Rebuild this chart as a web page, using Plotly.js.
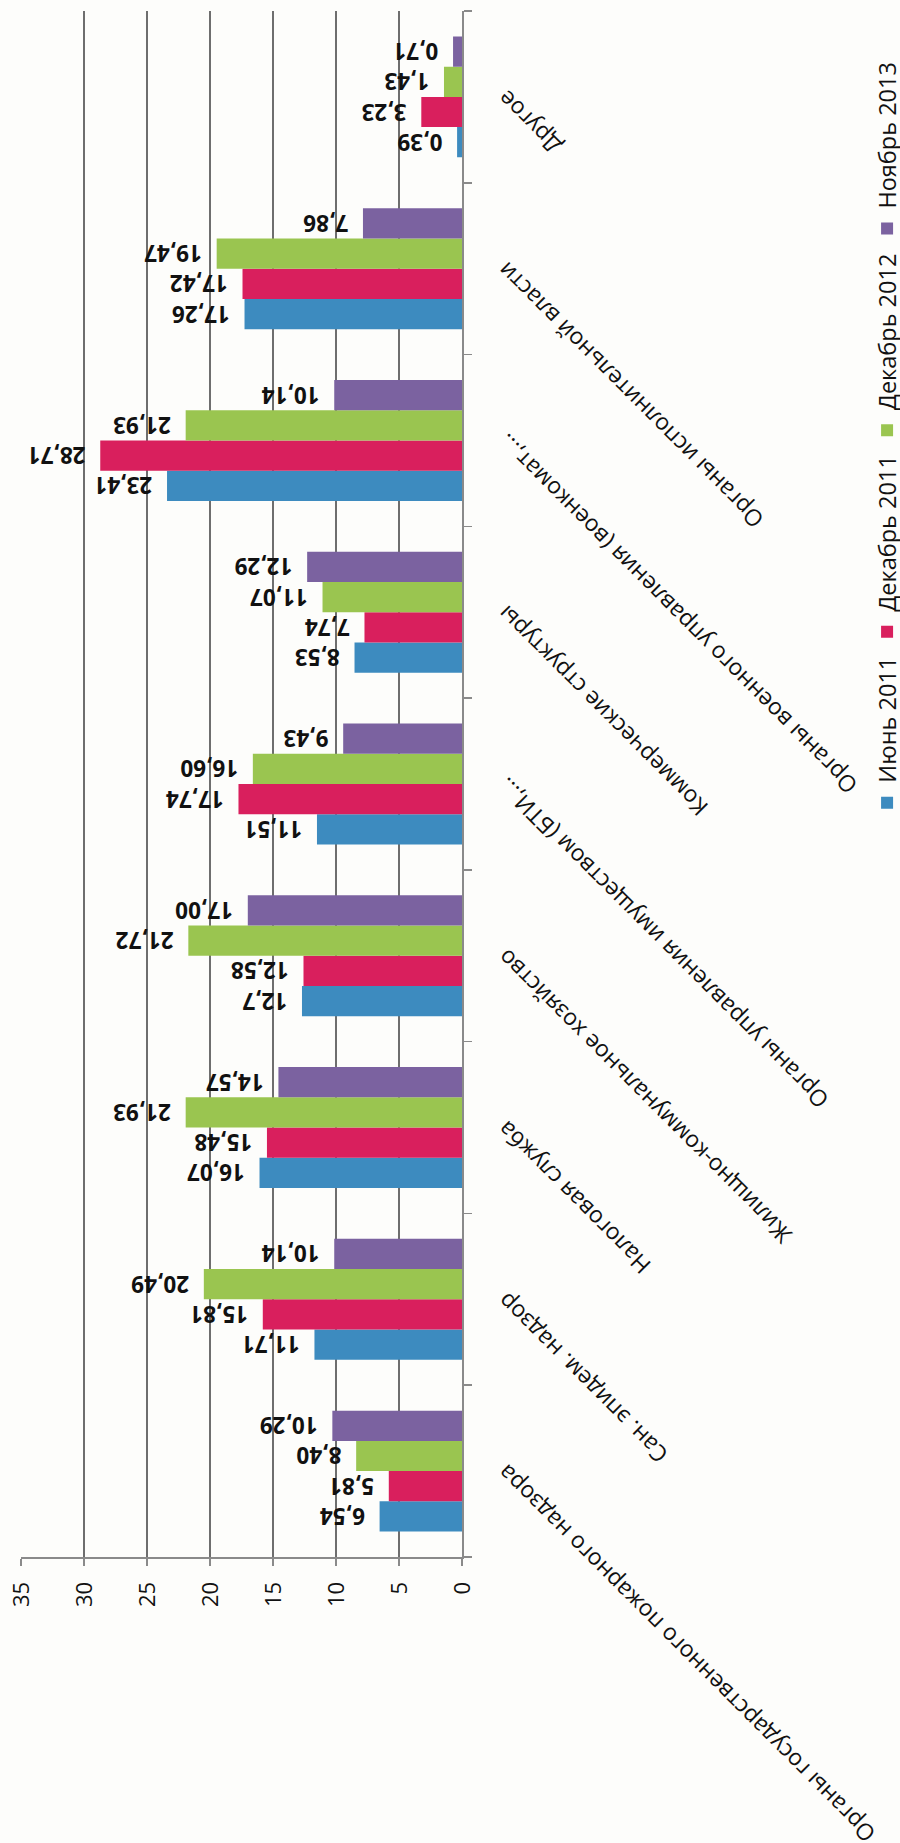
<!DOCTYPE html>
<html>
<head>
<meta charset="utf-8">
<script src="https://cdn.plot.ly/plotly-3.0.1.min.js"></script>
<style>
  html, body { margin: 0; padding: 0; width: 900px; height: 1843px; overflow: hidden; background: #fdfdfb; }
  #chart { position: absolute; left: 0; top: 0; width: 1843px; height: 930px;
           transform-origin: 0 0; transform: translateY(1843px) rotate(-90deg); }
</style>
</head>
<body>
<div id="chart"></div>
<script>
const categories = [
  'Органы государственного пожарного надзора',
  'Сан. эпидем. надзор',
  'Налоговая служба',
  'Жилищно-коммунальное хозяйство',
  'Органы управления имуществом (БТИ,...',
  'Коммерческие структуры',
  'Органы военного управления (военкомат,...',
  'Органы исполнительной власти',
  'Другое'
];
const seriesNames = ['Июнь 2011', 'Декабрь 2011', 'Декабрь 2012', 'Ноябрь 2013'];
const jun2011 = [6.54, 11.71, 16.07, 12.7, 11.51, 8.53, 23.41, 17.26, 0.39];
const dec2011 = [5.81, 15.81, 15.48, 12.58, 17.74, 7.74, 28.71, 17.42, 3.23];
const dec2012 = [8.40, 20.49, 21.93, 21.72, 16.60, 11.07, 21.93, 19.47, 1.43];
const nov2013 = [10.29, 10.14, 14.57, 17.00, 9.43, 12.29, 10.14, 7.86, 0.71];
const jun2011Labels = ['6,54', '11,71', '16,07', '12,7', '11,51', '8,53', '23,41', '17,26', '0,39'];
const dec2011Labels = ['5,81', '15,81', '15,48', '12,58', '17,74', '7,74', '28,71', '17,42', '3,23'];
const dec2012Labels = ['8,40', '20,49', '21,93', '21,72', '16,60', '11,07', '21,93', '19,47', '1,43'];
const nov2013Labels = ['10,29', '10,14', '14,57', '17,00', '9,43', '12,29', '10,14', '7,86', '0,71'];
const valueTicks = [0, 5, 10, 15, 20, 25, 30, 35];

const colors = ['#3d8bbf', '#d91f5d', '#9ac550', '#7b62a0'];
const values = [jun2011, dec2011, dec2012, nov2013];
const labels = [jun2011Labels, dec2011Labels, dec2012Labels, nov2013Labels];
const FONT = 'Open Sans, Noto Sans, sans-serif';

const traces = values.map((v, i) => ({
  type: 'bar',
  name: seriesNames[i],
  x: categories,
  y: v,
  text: labels[i].map(s => '\u00a0\u00a0' + s),
  textposition: 'outside',
  textangle: -90,
  constraintext: 'none',
  cliponaxis: false,
  textfont: { family: FONT, size: 22.5, color: '#111', weight: 'bold' },
  marker: { color: colors[i] },
  hoverinfo: 'skip'
}));

const layout = {
  width: 1843, height: 930,
  margin: { l: 286, r: 11, t: 21, b: 468, pad: 0 },
  paper_bgcolor: '#fdfdfb',
  plot_bgcolor: '#fdfdfb',
  barmode: 'group',
  bargap: 0.296,
  bargroupgap: 0,
  font: { family: FONT, size: 22, color: '#111' },
  showlegend: true,
  legend: {
    orientation: 'h', x: 0.475, xanchor: 'left', y: -0.9644, yanchor: 'middle',
    font: { family: FONT, size: 23.5, color: '#111' },
    bgcolor: 'rgba(0,0,0,0)'
  },
  xaxis: {
    type: 'category',
    tickangle: -45,
    automargin: false,
    showline: true, linecolor: '#8a8a8a', linewidth: 1.5,
    ticks: 'outside', tickson: 'boundaries', ticklen: 8, tickcolor: '#8a8a8a', tickwidth: 1.5,
    showgrid: false,
    tickfont: { family: FONT, size: 23, color: '#111' },
    ticklabelstandoff: 20
  },
  yaxis: {
    range: [0, 35],
    tickvals: valueTicks,
    automargin: false,
    showgrid: true, gridcolor: '#6e6e6e', gridwidth: 1.5,
    zeroline: false,
    showline: true, linecolor: '#8a8a8a', linewidth: 1.5,
    ticks: 'outside', ticklen: 7, tickcolor: '#8a8a8a', tickwidth: 1.5,
    tickfont: { family: FONT, size: 22, color: '#111' },
    ticklabelstandoff: 12
  }
};

Plotly.newPlot('chart', traces, layout, { staticPlot: true, displayModeBar: false });
</script>
</body>
</html>
